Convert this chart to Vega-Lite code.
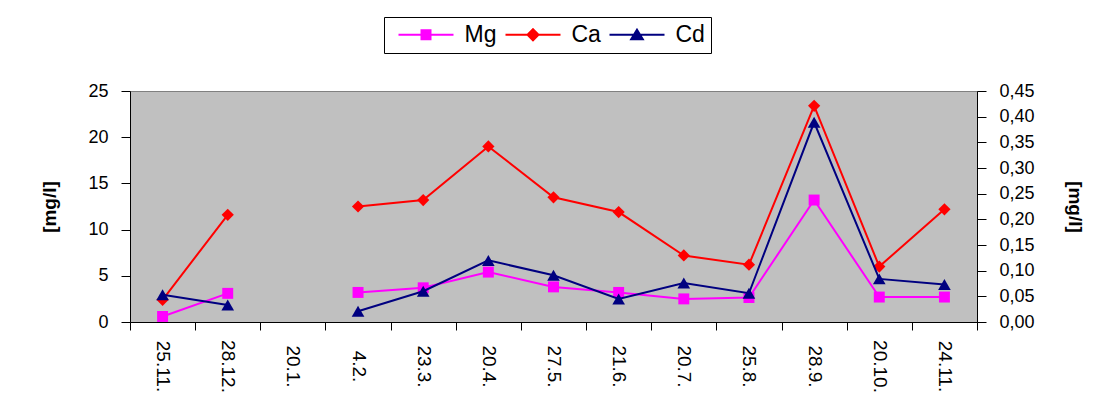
{
  "$schema": "https://vega.github.io/schema/vega-lite/v6.json",
  "width": 847,
  "height": 231,
  "autosize": {"type": "none"},
  "padding": {"left": 130, "top": 91, "right": 131, "bottom": 83},
  "background": "white",
  "config": {
    "font": "Liberation Sans",
    "view": {"fill": "#C0C0C0", "stroke": "#808080", "strokeWidth": 1},
    "axis": {"domainColor": "black", "tickColor": "black", "labelColor": "black", "titleColor": "black", "grid": false, "labelFont": "Liberation Sans", "titleFont": "Liberation Sans", "domainWidth": 1, "tickWidth": 1}
  },
  "data": {
    "values": [
      {"date": "25.11.", "series": "Mg", "value": 0.6},
      {"date": "28.12.", "series": "Mg", "value": 3.1},
      {"date": "20.1.", "series": "Mg", "value": null},
      {"date": "4.2.", "series": "Mg", "value": 3.2},
      {"date": "23.3.", "series": "Mg", "value": 3.7},
      {"date": "20.4.", "series": "Mg", "value": 5.4},
      {"date": "27.5.", "series": "Mg", "value": 3.8},
      {"date": "21.6.", "series": "Mg", "value": 3.2},
      {"date": "20.7.", "series": "Mg", "value": 2.5},
      {"date": "25.8.", "series": "Mg", "value": 2.65},
      {"date": "28.9.", "series": "Mg", "value": 13.2},
      {"date": "20.10.", "series": "Mg", "value": 2.7},
      {"date": "24.11.", "series": "Mg", "value": 2.7},
      {"date": "25.11.", "series": "Ca", "value": 2.4},
      {"date": "28.12.", "series": "Ca", "value": 11.6},
      {"date": "20.1.", "series": "Ca", "value": null},
      {"date": "4.2.", "series": "Ca", "value": 12.5},
      {"date": "23.3.", "series": "Ca", "value": 13.2},
      {"date": "20.4.", "series": "Ca", "value": 19.0},
      {"date": "27.5.", "series": "Ca", "value": 13.5},
      {"date": "21.6.", "series": "Ca", "value": 11.9},
      {"date": "20.7.", "series": "Ca", "value": 7.2},
      {"date": "25.8.", "series": "Ca", "value": 6.2},
      {"date": "28.9.", "series": "Ca", "value": 23.4},
      {"date": "20.10.", "series": "Ca", "value": 6.0},
      {"date": "24.11.", "series": "Ca", "value": 12.2},
      {"date": "25.11.", "series": "Cd", "value": 0.053},
      {"date": "28.12.", "series": "Cd", "value": 0.033},
      {"date": "20.1.", "series": "Cd", "value": null},
      {"date": "4.2.", "series": "Cd", "value": 0.021},
      {"date": "23.3.", "series": "Cd", "value": 0.060},
      {"date": "20.4.", "series": "Cd", "value": 0.120},
      {"date": "27.5.", "series": "Cd", "value": 0.091},
      {"date": "21.6.", "series": "Cd", "value": 0.045},
      {"date": "20.7.", "series": "Cd", "value": 0.076},
      {"date": "25.8.", "series": "Cd", "value": 0.056},
      {"date": "28.9.", "series": "Cd", "value": 0.389},
      {"date": "20.10.", "series": "Cd", "value": 0.084},
      {"date": "24.11.", "series": "Cd", "value": 0.073}
    ]
  },
  "encoding": {
    "x": {
      "field": "date",
      "type": "nominal",
      "sort": null,
      "scale": {"domain": ["25.11.", "28.12.", "20.1.", "4.2.", "23.3.", "20.4.", "27.5.", "21.6.", "20.7.", "25.8.", "28.9.", "20.10.", "24.11."], "paddingInner": 0, "paddingOuter": 0},
      "axis": {"title": null, "labelAngle": 90, "labelAlign": "center", "labelBaseline": "middle", "labelPadding": 36, "tickBand": "extent", "tickSize": 8, "labelFontSize": 19, "labelOverlap": false}
    },
    "color": {
      "field": "series",
      "type": "nominal",
      "scale": {"domain": ["Mg", "Ca", "Cd"], "range": ["#FF00FF", "#FF0000", "#000080"]},
      "legend": {
        "title": null,
        "orient": "none",
        "legendX": 254,
        "legendY": -74,
        "direction": "horizontal",
        "strokeColor": "black",
        "fillColor": "white",
        "padding": 6,
        "labelFontSize": 23,
        "labelFont": "Liberation Sans",
        "labelColor": "black",
        "symbolSize": 400,
        "symbolOffset": 24.5,
        "labelOffset": 27,
        "columnPadding": 0,
        "encode": {
          "symbols": {
            "update": {
              "shape": {"signal": "datum.value === 'Mg' ? 'M-2.75,0L2.75,0M-0.45,-0.45L0.45,-0.45L0.45,0.45L-0.45,0.45Z' : datum.value === 'Ca' ? 'M-2.75,0L2.75,0M0,-0.55L0.55,0L0,0.55L-0.55,0Z' : 'M-2.75,0L2.75,0M0,-0.5L0.58,0.45L-0.58,0.45Z'"},
              "fill": {"signal": "datum.value === 'Mg' ? '#FF00FF' : datum.value === 'Ca' ? '#FF0000' : '#000080'"},
              "stroke": {"signal": "datum.value === 'Mg' ? '#FF00FF' : datum.value === 'Ca' ? '#FF0000' : '#000080'"},
              "strokeWidth": {"value": 2},
              "size": {"value": 400},
              "opacity": {"value": 1}
            }
          }
        }
      }
    },
    "order": {"value": null}
  },
  "layer": [
    {
      "transform": [{"filter": "datum.series !== 'Cd'"}],
      "encoding": {
        "y": {
          "field": "value",
          "type": "quantitative",
          "scale": {"domain": [0, 25], "nice": false},
          "axis": {"values": [0, 5, 10, 15, 20, 25], "title": "[mg/l]", "titleFontSize": 19, "titleFontWeight": "bold", "titlePadding": 28, "labelFontSize": 18, "tickSize": 9, "labelPadding": 13}
        }
      },
      "layer": [
        {"mark": {"type": "line", "strokeWidth": 2, "invalid": "break-paths-show-domains"}},
        {
          "transform": [{"filter": "datum.series === 'Mg'"}],
          "mark": {"type": "point", "shape": "square", "filled": true, "size": 120, "opacity": 1}
        },
        {
          "transform": [{"filter": "datum.series === 'Ca'"}],
          "mark": {"type": "point", "shape": "diamond", "filled": true, "size": 150, "opacity": 1}
        }
      ]
    },
    {
      "transform": [{"filter": "datum.series === 'Cd'"}],
      "encoding": {
        "y": {
          "field": "value",
          "type": "quantitative",
          "scale": {"domain": [0, 0.45], "nice": false},
          "axis": {"orient": "right", "values": [0, 0.05, 0.1, 0.15, 0.2, 0.25, 0.3, 0.35, 0.4, 0.45], "labelExpr": "replace(format(datum.value, '.2f'), '.', ',')", "title": "[mg/l]", "titleFontSize": 19, "titleFontWeight": "bold", "titlePadding": 30, "labelFontSize": 18, "tickSize": 9, "labelPadding": 13}
        }
      },
      "layer": [
        {"mark": {"type": "line", "strokeWidth": 2, "invalid": "break-paths-show-domains"}},
        {"mark": {"type": "point", "shape": "triangle-up", "filled": true, "size": 160, "opacity": 1}}
      ]
    }
  ],
  "resolve": {"scale": {"y": "independent"}}
}
